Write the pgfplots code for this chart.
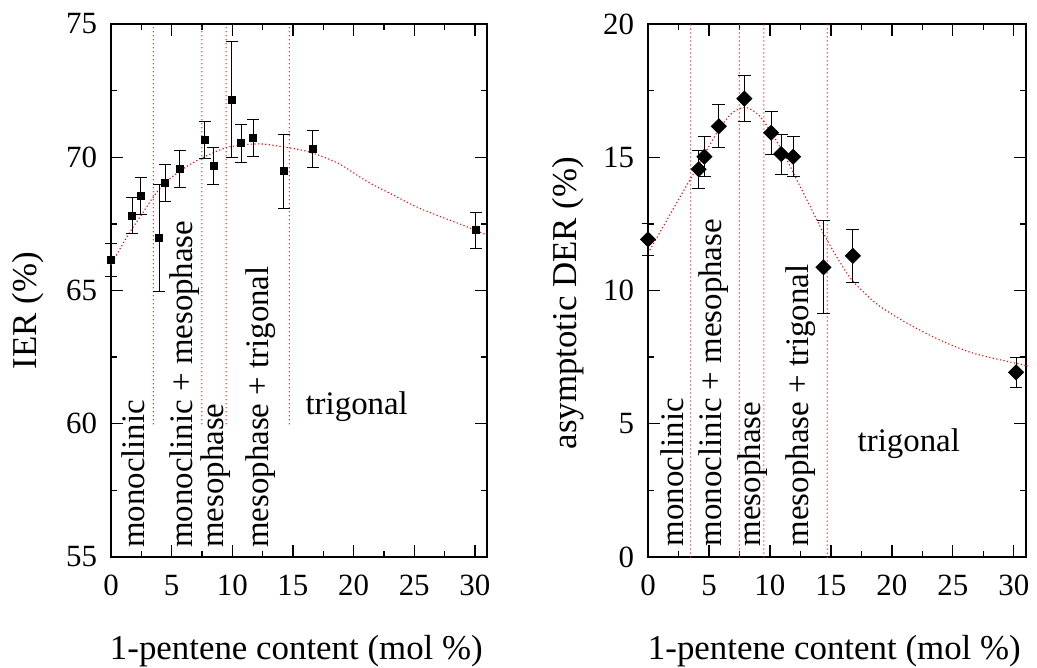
\documentclass[border=0pt]{standalone}
\usepackage{fontspec}
\setmainfont{Liberation Serif}
\usepackage{pgfplots}
\pgfplotsset{compat=1.18}

\pgfplotsset{
  myaxis/.style={
    scale only axis, width=188bp, height=266.5bp,
    xmin=0, xmax=31,
    xtick={0,5,...,30}, minor x tick num=1,
    minor y tick num=1,
    tick align=inside,
    major tick length=6bp, minor tick length=3bp,
    axis line style={line width=0.65bp},
    tick style={black, line width=0.65bp},
    /pgf/number format/assume math mode=true,
    tick label style={font=\fontsize{15.5}{18}\selectfont},
    xticklabel style={yshift=-5.5bp},
    yticklabel style={xshift=-3.5bp},
    label style={font=\fontsize{17.5}{21}\selectfont},
    xlabel={1-pentene content (mol \%)},
    xlabel style={at={(axis description cs:0.493,0)}, anchor=base, yshift=-51bp},
    clip=false,
  },
  fitline/.style={color=red, line width=0.55bp, dash pattern=on 0.6bp off 1.2bp, smooth, tension=0.5, no marks},
  phaseline/.style={color=red!85!white, line width=0.75bp, line cap=round, dash pattern=on 0bp off 2bp, no marks},
}
\tikzset{
  phaselabel/.style={rotate=90, anchor=base west, font=\fontsize{16.5}{20}\selectfont, inner sep=0pt},
}

\begin{document}
\begin{tikzpicture}
\path[use as bounding box] (-55.5bp,-55.5bp) rectangle (463bp,278.5bp);

% ---------------- Left: IER ----------------
\begin{axis}[myaxis,
  at={(0bp,0bp)}, anchor=south west,
  ymin=55, ymax=75, ytick={55,60,...,75},
  ylabel={IER (\%)},
  ylabel style={at={(axis description cs:-0.197,0.585)}, anchor=base east},
]
\addplot[phaseline] coordinates {(3.5,60) (3.5,75)};
\addplot[phaseline] coordinates {(7.5,60) (7.5,75)};
\addplot[phaseline] coordinates {(9.5,60) (9.5,75)};
\addplot[phaseline] coordinates {(14.7,60) (14.7,75)};

\addplot[fitline] coordinates {
(0,65.96) (1.4,67.08) (2.5,67.83) (3.6,68.58) (4.56,69.08) (5.8,69.52)
(6.9,69.83) (8.0,70.08) (9.37,70.34) (10.74,70.46) (12.4,70.5) (14.04,70.4)
(16.24,70.21) (18.7,69.78) (21.08,69.1) (23.2,68.6) (25.47,68.08) (29.3,67.4) (31,67.08)};

\addplot[only marks, mark=square*, mark size=1.75bp, black,
  error bars/.cd, y dir=both, y explicit,
  error bar style={line width=0.5bp, black},
  error mark options={rotate=90, mark size=3bp, line width=0.5bp, black}]
 table[x=x, y=y, y error=e] {
x y e
0 66.13 0.62
1.75 67.81 0.67
2.44 68.55 0.68
3.96 66.98 2.0
4.46 69.02 0.69
5.65 69.57 0.69
7.75 70.65 0.71
8.45 69.66 0.69
9.95 72.17 2.17
10.75 70.52 0.7
11.73 70.72 0.7
14.25 69.47 1.4
16.65 70.32 0.7
30.06 67.26 0.67
};

\node[phaselabel] at (axis cs:2.8,55.33) {monoclinic};
\node[phaselabel] at (axis cs:6.75,55.33) {monoclinic + mesophase};
\node[phaselabel] at (axis cs:9.26,55.33) {mesophase};
\node[phaselabel] at (axis cs:12.97,55.33) {mesophase + trigonal};
\node[anchor=base, font=\fontsize{16.5}{20}\selectfont, inner sep=0pt] at (axis cs:20.26,60.33) {trigonal};
\end{axis}

% ---------------- Right: asymptotic DER ----------------
\begin{axis}[myaxis,
  at={(268.5bp,0bp)}, anchor=south west, width=189bp,
  ymin=0, ymax=20, ytick={0,5,...,20},
  ylabel={asymptotic DER (\%)},
  ylabel style={at={(axis description cs:-0.188,0.764)}, anchor=base east},
]
\addplot[phaseline] coordinates {(3.5,0) (3.5,20)};
\addplot[phaseline] coordinates {(7.5,0) (7.5,20)};
\addplot[phaseline] coordinates {(9.5,0) (9.5,20)};
\addplot[phaseline] coordinates {(14.7,0) (14.7,20)};

\addplot[fitline] coordinates {
(0,11.4) (1.4,12.52) (2.49,13.4) (3.59,14.27) (4.68,15.15) (5.78,16.02)
(6.87,16.65) (7.97,16.87) (9.06,16.59) (10.16,15.9) (11.26,15.02) (12.35,14.02)
(13.45,13.02) (14.54,12.02) (15.64,11.14) (16.73,10.39) (18.38,9.64) (19.47,9.27)
(21.26,8.77) (23.9,8.15) (26.73,7.64) (30.84,7.2) (31,7.18)};

\addplot[only marks, mark=diamond*, mark size=3.75bp, black, mark options={xscale=1.333},
  error bars/.cd, y dir=both, y explicit,
  error bar style={line width=0.5bp, black},
  error mark options={rotate=90, mark size=3.2bp, line width=0.5bp, black}]
 table[x=x, y=y, y error=e] {
x y e
0 11.92 0.59
4.15 14.55 0.72
4.63 15.02 0.75
5.81 16.16 0.81
7.9 17.2 0.86
10.1 15.92 0.8
10.92 15.12 0.75
11.9 15.02 0.75
14.39 10.87 1.74
16.8 11.3 0.99
30.18 6.93 0.56
};

\node[phaselabel] at (axis cs:2.9,0.39) {monoclinic};
\node[phaselabel] at (axis cs:6.05,0.39) {monoclinic + mesophase};
\node[phaselabel] at (axis cs:9.2,0.39) {mesophase};
\node[phaselabel] at (axis cs:13.17,0.39) {mesophase + trigonal};
\node[anchor=base, font=\fontsize{16.5}{20}\selectfont, inner sep=0pt] at (axis cs:21.39,3.95) {trigonal};
\end{axis}
\end{tikzpicture}
\end{document}
